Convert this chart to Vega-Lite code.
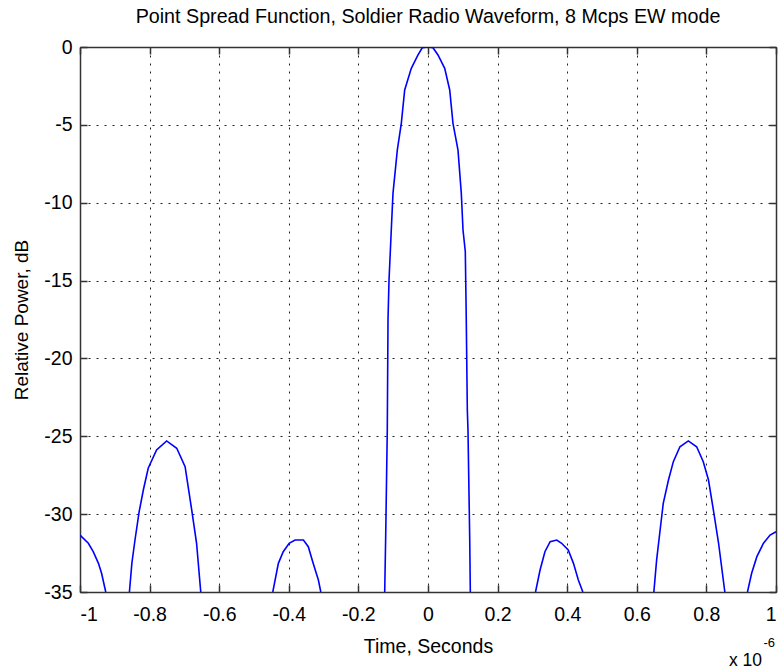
{
  "$schema": "https://vega.github.io/schema/vega-lite/v6.json",
  "width": 696,
  "height": 545,
  "autosize": {"type": "none"},
  "padding": {"left": 80, "top": 47, "right": 2, "bottom": 78},
  "background": "white",
  "config": {"view": {"stroke": null}, "font": "Liberation Sans"},
  "title": {"text": "Point Spread Function, Soldier Radio Waveform, 8 Mcps EW mode", "fontSize": 19.7, "fontWeight": "normal", "color": "#000", "font": "Liberation Sans", "offset": 10},
  "datasets": {
    "psf": [
      {"seg": "A", "t": -1.0, "db": -31.34},
      {"seg": "A", "t": -0.976, "db": -31.87},
      {"seg": "A", "t": -0.962, "db": -32.41},
      {"seg": "A", "t": -0.947, "db": -33.16},
      {"seg": "A", "t": -0.938, "db": -33.8},
      {"seg": "A", "t": -0.926, "db": -35.0},
      {"seg": "B", "t": -0.858, "db": -35.0},
      {"seg": "B", "t": -0.851, "db": -33.16},
      {"seg": "B", "t": -0.842, "db": -31.66},
      {"seg": "B", "t": -0.83, "db": -29.84},
      {"seg": "B", "t": -0.818, "db": -28.45},
      {"seg": "B", "t": -0.804, "db": -27.05},
      {"seg": "B", "t": -0.78, "db": -25.88},
      {"seg": "B", "t": -0.751, "db": -25.3},
      {"seg": "B", "t": -0.722, "db": -25.77},
      {"seg": "B", "t": -0.698, "db": -26.95},
      {"seg": "B", "t": -0.679, "db": -29.73},
      {"seg": "B", "t": -0.665, "db": -31.87},
      {"seg": "B", "t": -0.653, "db": -35.0},
      {"seg": "C", "t": -0.446, "db": -35.0},
      {"seg": "C", "t": -0.43, "db": -33.16},
      {"seg": "C", "t": -0.416, "db": -32.41},
      {"seg": "C", "t": -0.399, "db": -31.87},
      {"seg": "C", "t": -0.382, "db": -31.66},
      {"seg": "C", "t": -0.358, "db": -31.66},
      {"seg": "C", "t": -0.344, "db": -32.09},
      {"seg": "C", "t": -0.33, "db": -33.16},
      {"seg": "C", "t": -0.315, "db": -34.23},
      {"seg": "C", "t": -0.308, "db": -35.0},
      {"seg": "D", "t": -0.1244, "db": -35.0},
      {"seg": "D", "t": -0.1216, "db": -31.45},
      {"seg": "D", "t": -0.117, "db": -24.6},
      {"seg": "D", "t": -0.1149, "db": -17.5},
      {"seg": "D", "t": -0.112, "db": -14.96},
      {"seg": "D", "t": -0.1083, "db": -13.14},
      {"seg": "D", "t": -0.1055, "db": -11.75},
      {"seg": "D", "t": -0.1006, "db": -9.4},
      {"seg": "D", "t": -0.0882, "db": -6.62},
      {"seg": "D", "t": -0.0767, "db": -4.9},
      {"seg": "D", "t": -0.067, "db": -2.76},
      {"seg": "D", "t": -0.048, "db": -1.37},
      {"seg": "D", "t": -0.0287, "db": -0.51},
      {"seg": "D", "t": -0.0164, "db": -0.05},
      {"seg": "D", "t": 0.0, "db": 0.0},
      {"seg": "D", "t": 0.0144, "db": -0.05},
      {"seg": "D", "t": 0.0287, "db": -0.51},
      {"seg": "D", "t": 0.048, "db": -1.37},
      {"seg": "D", "t": 0.0624, "db": -2.76},
      {"seg": "D", "t": 0.0718, "db": -4.9},
      {"seg": "D", "t": 0.0862, "db": -6.62},
      {"seg": "D", "t": 0.0957, "db": -9.4},
      {"seg": "D", "t": 0.1006, "db": -11.75},
      {"seg": "D", "t": 0.1072, "db": -13.14},
      {"seg": "D", "t": 0.11, "db": -17.53},
      {"seg": "D", "t": 0.113, "db": -23.31},
      {"seg": "D", "t": 0.1149, "db": -24.6},
      {"seg": "D", "t": 0.1198, "db": -31.45},
      {"seg": "D", "t": 0.1216, "db": -35.0},
      {"seg": "E", "t": 0.309, "db": -35.0},
      {"seg": "E", "t": 0.322, "db": -33.59},
      {"seg": "E", "t": 0.336, "db": -32.41},
      {"seg": "E", "t": 0.351, "db": -31.77},
      {"seg": "E", "t": 0.37, "db": -31.66},
      {"seg": "E", "t": 0.384, "db": -31.87},
      {"seg": "E", "t": 0.403, "db": -32.3},
      {"seg": "E", "t": 0.418, "db": -33.16},
      {"seg": "E", "t": 0.432, "db": -34.23},
      {"seg": "E", "t": 0.445, "db": -35.0},
      {"seg": "F", "t": 0.649, "db": -35.0},
      {"seg": "F", "t": 0.657, "db": -32.94},
      {"seg": "F", "t": 0.667, "db": -31.02},
      {"seg": "F", "t": 0.676, "db": -29.31},
      {"seg": "F", "t": 0.691, "db": -27.81},
      {"seg": "F", "t": 0.705, "db": -26.63},
      {"seg": "F", "t": 0.724, "db": -25.67},
      {"seg": "F", "t": 0.748, "db": -25.3},
      {"seg": "F", "t": 0.772, "db": -25.67},
      {"seg": "F", "t": 0.791, "db": -26.63},
      {"seg": "F", "t": 0.806, "db": -27.81},
      {"seg": "F", "t": 0.82, "db": -29.73},
      {"seg": "F", "t": 0.835, "db": -31.87},
      {"seg": "F", "t": 0.853, "db": -35.0},
      {"seg": "G", "t": 0.918, "db": -35.0},
      {"seg": "G", "t": 0.93, "db": -33.8},
      {"seg": "G", "t": 0.945, "db": -32.73},
      {"seg": "G", "t": 0.964, "db": -31.87},
      {"seg": "G", "t": 0.983, "db": -31.34},
      {"seg": "G", "t": 1.0, "db": -31.13}
    ],
    "note": [{"t": 1, "db": -35}]
  },
  "layer": [
    {
      "data": {"name": "psf"},
      "mark": {"type": "line", "color": "#0000ff", "strokeWidth": 1.6, "clip": true},
      "encoding": {
        "x": {"field": "t", "type": "quantitative", "title": "Time, Seconds",
          "scale": {"domain": [-1, 1], "nice": false, "zero": false},
          "axis": {"orient": "bottom", "values": [-1, -0.8, -0.6, -0.4, -0.2, 0, 0.2, 0.4, 0.6, 0.8, 1],
            "labelExpr": "'' + datum.value", "grid": true, "gridDash": [2, 6], "gridColor": "#222", "gridWidth": 1,
            "domainColor": "#333", "domainWidth": 1.5, "tickColor": "#333", "tickSize": -7, "tickWidth": 1.5,
            "labelPadding": 20, "labelFontSize": 19.5, "labelColor": "#000", "labelFont": "Liberation Sans",
            "titleFontSize": 19.5, "titleFontWeight": "normal", "titleColor": "#000", "titleFont": "Liberation Sans", "titlePadding": 14}},
        "y": {"field": "db", "type": "quantitative", "title": "Relative Power, dB",
          "scale": {"domain": [-35, 0], "nice": false, "zero": false},
          "axis": {"orient": "left", "values": [-35, -30, -25, -20, -15, -10, -5, 0],
            "labelExpr": "'' + datum.value", "grid": true, "gridDash": [2, 6], "gridColor": "#222", "gridWidth": 1,
            "domainColor": "#333", "domainWidth": 1.5, "tickColor": "#333", "tickSize": -7, "tickWidth": 1.5,
            "labelPadding": 15, "labelFontSize": 19.5, "labelColor": "#000", "labelFont": "Liberation Sans",
            "titleFontSize": 19, "titleFontWeight": "normal", "titleColor": "#000", "titleFont": "Liberation Sans", "titlePadding": 12}},
        "detail": {"field": "seg", "type": "nominal"}
      }
    },
    {
      "data": {"name": "psf"},
      "mark": {"type": "line", "strokeOpacity": 0},
      "encoding": {
        "x": {"field": "t", "type": "quantitative", "title": null,
          "scale": {"domain": [-1, 1], "nice": false, "zero": false},
          "axis": {"orient": "top", "values": [-1, -0.8, -0.6, -0.4, -0.2, 0, 0.2, 0.4, 0.6, 0.8, 1], "labels": false, "grid": false,
            "domainColor": "#333", "domainWidth": 1.5, "tickColor": "#333", "tickSize": -7, "tickWidth": 1.5}},
        "y": {"field": "db", "type": "quantitative", "title": null,
          "scale": {"domain": [-35, 0], "nice": false, "zero": false},
          "axis": {"orient": "right", "values": [-35, -30, -25, -20, -15, -10, -5, 0], "labels": false, "grid": false,
            "domainColor": "#333", "domainWidth": 1.5, "tickColor": "#333", "tickSize": -7, "tickWidth": 1.5}},
        "detail": {"field": "seg", "type": "nominal"}
      }
    },
    {
      "data": {"name": "note"},
      "mark": {"type": "text", "text": "x 10", "align": "right", "baseline": "alphabetic", "dx": -14, "dy": 74, "fontSize": 17.5, "font": "Liberation Sans", "color": "#000"},
      "encoding": {"x": {"field": "t", "type": "quantitative", "axis": null}, "y": {"field": "db", "type": "quantitative", "axis": null}}
    },
    {
      "data": {"name": "note"},
      "mark": {"type": "text", "text": "-6", "align": "right", "baseline": "alphabetic", "dx": -1, "dy": 55, "fontSize": 13, "font": "Liberation Sans", "color": "#000"},
      "encoding": {"x": {"field": "t", "type": "quantitative", "axis": null}, "y": {"field": "db", "type": "quantitative", "axis": null}}
    }
  ],
  "resolve": {"axis": {"x": "independent", "y": "independent"}}
}
